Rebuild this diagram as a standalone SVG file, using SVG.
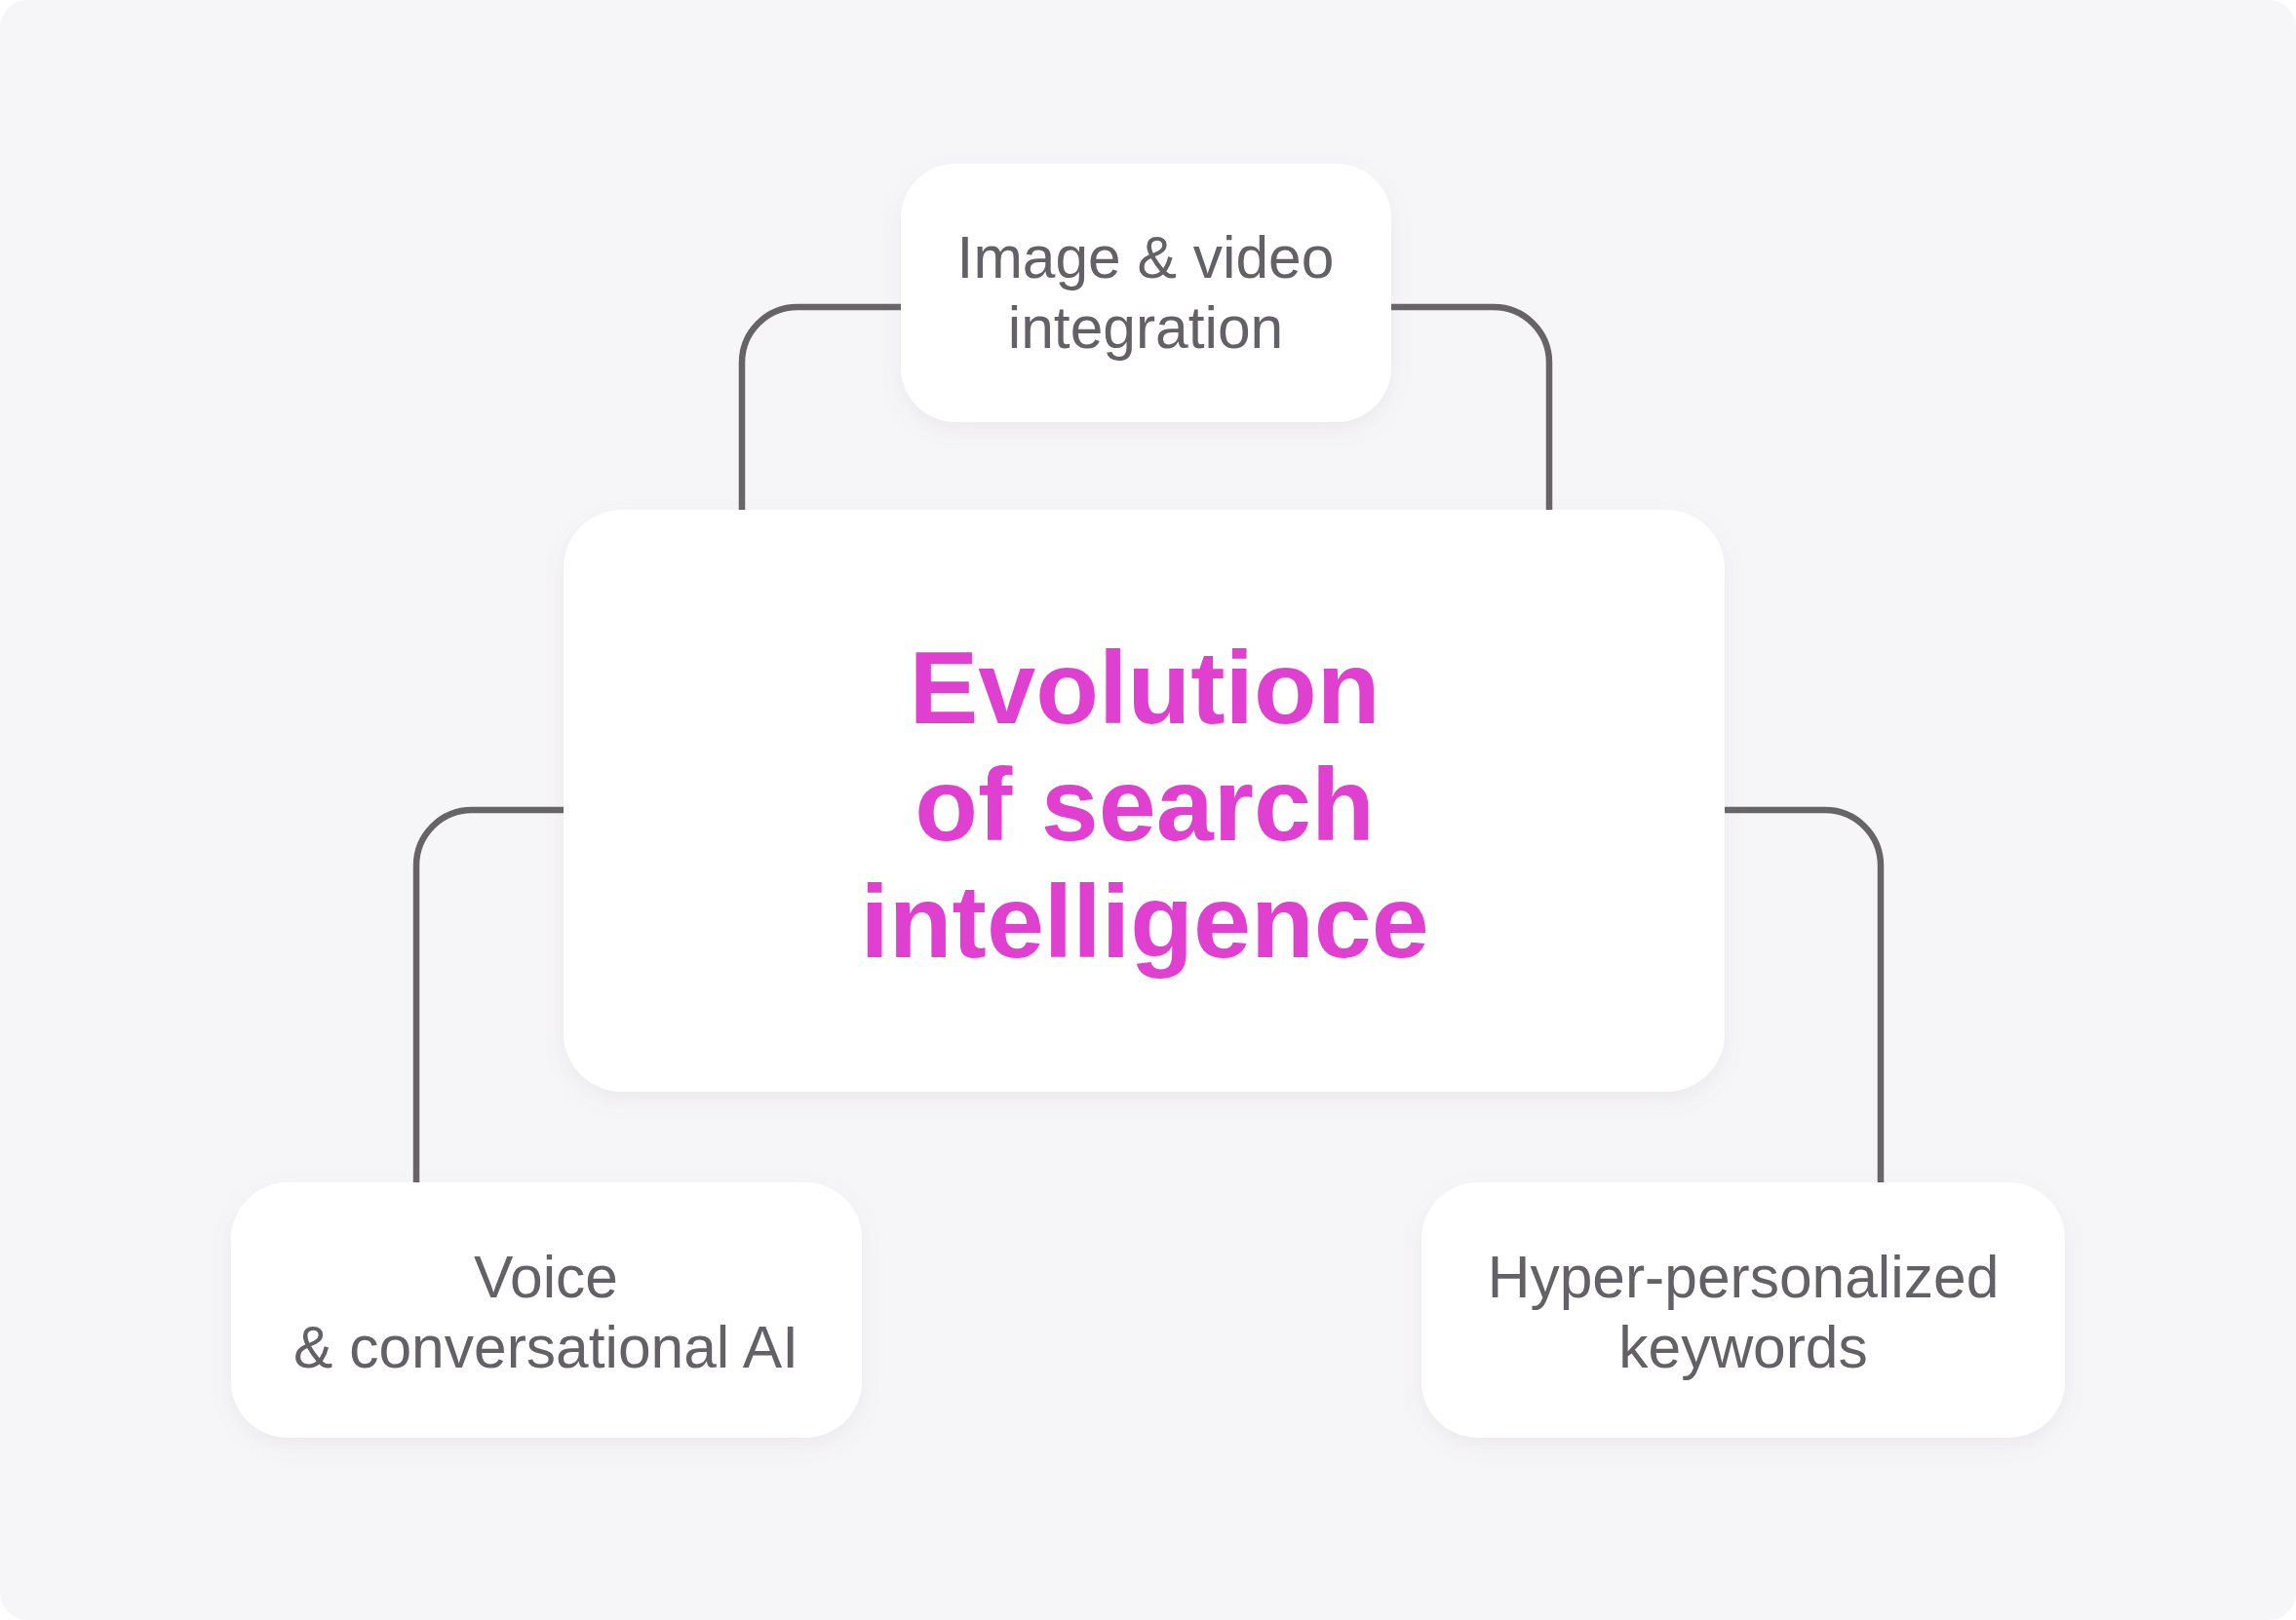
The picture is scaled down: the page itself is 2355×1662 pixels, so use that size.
<svg xmlns="http://www.w3.org/2000/svg" width="2355" height="1662" viewBox="0 0 2355 1662">
<defs>
<filter id="sh" x="-10%" y="-10%" width="120%" height="130%">
<feDropShadow dx="0" dy="8" stdDeviation="10" flood-color="#8a8090" flood-opacity="0.10"/>
</filter>
<style>
.box{fill:#ffffff;filter:url(#sh)}
.lbl{font-family:"Liberation Sans",Arial,sans-serif;font-size:60.5px;fill:#636165;text-anchor:middle}
.title{font-family:"Liberation Sans",Arial,sans-serif;font-weight:bold;font-size:106px;fill:#e040cf;text-anchor:middle}
.con{fill:none;stroke:#676468;stroke-width:6.5}
</style>
</defs>
<rect x="0" y="0" width="2355" height="1662" fill="#ffffff"/>
<rect x="0" y="0" width="2355" height="1662" rx="28" fill="#f6f5f8"/>
<g id="connectors">
<path class="con" d="M924 315 H818 A57 57 0 0 0 761 372 V523"/>
<path class="con" d="M1427 315 H1532 A57 57 0 0 1 1589 372 V523"/>
<path class="con" d="M578 831 H484 A57 57 0 0 0 427 888 V1213"/>
<path class="con" d="M1769 831 H1872 A57 57 0 0 1 1929 888 V1213"/>
</g>
<g id="node-top">
<rect class="box" x="924" y="168" width="503" height="265" rx="56"/>
<text class="lbl" x="1175" y="285">Image &amp; video</text>
<text class="lbl" x="1175" y="357">integration</text>
</g>
<g id="node-center">
<rect class="box" x="578" y="523" width="1191" height="597" rx="60"/>
<text class="title" x="1174" y="742">Evolution</text>
<text class="title" x="1174" y="862">of search</text>
<text class="title" x="1174" y="982">intelligence</text>
</g>
<g id="node-left">
<rect class="box" x="237" y="1213" width="647" height="262" rx="58"/>
<text class="lbl" x="560" y="1331">Voice</text>
<text class="lbl" x="560" y="1403">&amp; conversational AI</text>
</g>
<g id="node-right">
<rect class="box" x="1458" y="1213" width="660" height="262" rx="58"/>
<text class="lbl" x="1788" y="1331">Hyper-personalized</text>
<text class="lbl" x="1788" y="1403">keywords</text>
</g>
</svg>
